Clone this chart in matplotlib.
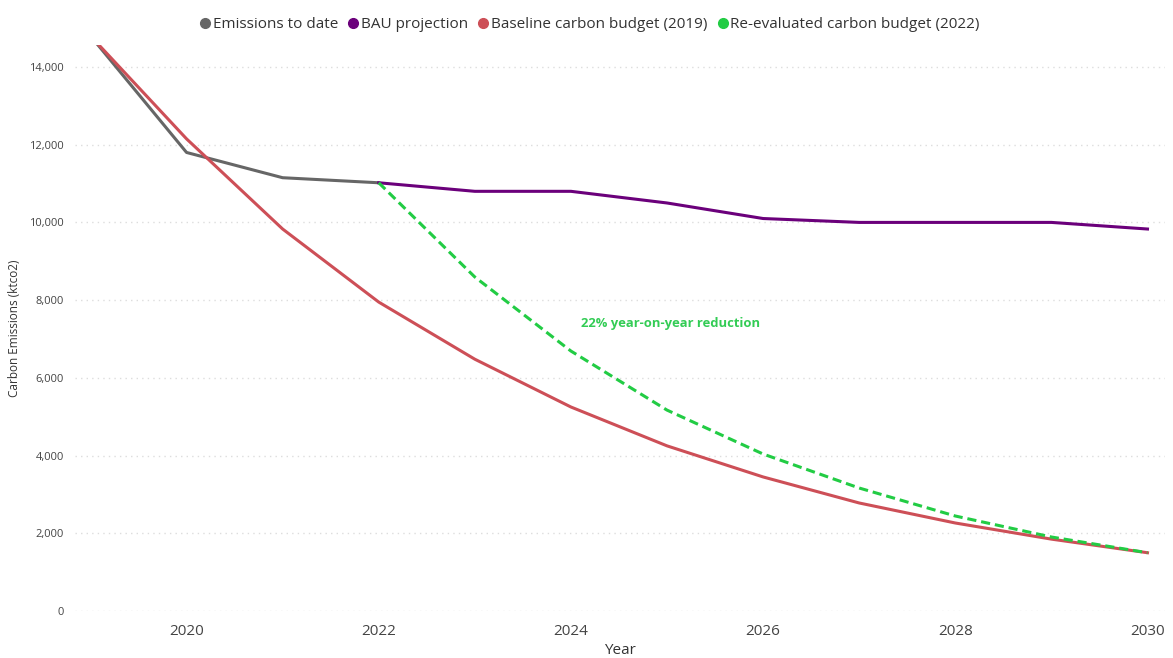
import matplotlib.pyplot as plt
from matplotlib.ticker import FuncFormatter
from matplotlib.lines import Line2D

plt.rcParams['font.family'] = ['Open Sans', 'DejaVu Sans']

# datos
years_todate = [2019, 2020, 2021, 2022]
emissions_todate = [14800, 11800, 11150, 11020]

years_bau = [2022, 2023, 2024, 2025, 2026, 2027, 2028, 2029, 2030]
bau = [11020, 10800, 10800, 10500, 10100, 10000, 10000, 10000, 9830]

years_base = [2019, 2020, 2021, 2022, 2023, 2024, 2025, 2026, 2027, 2028, 2029, 2030]
baseline = [14800, 12150, 9830, 7950, 6480, 5250, 4250, 3450, 2780, 2265, 1850, 1500]

years_reeval = [2022, 2023, 2024, 2025, 2026, 2027, 2028, 2029, 2030]
reeval = [11020, 8595, 6690, 5170, 4040, 3165, 2445, 1905, 1500]

labels = ["Emissions to date", "BAU projection", "Baseline carbon budget (2019)",
          "Re-evaluated carbon budget (2022)"]
colors = ["#666666", "#6B007B", "#CD4F57", "#22CC44"]

fig = plt.figure(figsize=(11.73, 6.58), dpi=100)
ax = fig.add_axes([0.064, 0.0714, 0.929, 0.8602])

ax.plot(years_todate, emissions_todate, color=colors[0], lw=2.2)
ax.plot(years_bau, bau, color=colors[1], lw=2.2)
ax.plot(years_base, baseline, color=colors[2], lw=2.2)
ax.plot(years_reeval, reeval, color=colors[3], lw=2.2, ls=(0, (3, 1.6)))

ax.text(2024.1, 7410, "22% year-on-year reduction", color="#33CC55",
        fontsize=9.4, fontweight="bold", va="center")

ax.set_xlim(2018.84, 2030.18)
ax.set_ylim(0, 14565)
ax.set_xticks([2020, 2022, 2024, 2026, 2028, 2030])
ax.set_yticks(range(0, 14001, 2000))
ax.yaxis.set_major_formatter(FuncFormatter(lambda v, p: f"{int(v):,}"))
ax.tick_params(axis="x", length=0, labelsize=11, labelcolor="#444444", pad=9)
ax.tick_params(axis="y", length=0, labelsize=8, labelcolor="#444444", pad=8)
ax.grid(axis="y", color="#DDDDDD", ls=(0, (1, 3)), lw=1)
ax.set_axisbelow(True)
for s in ax.spines.values():
    s.set_visible(False)

ax.set_xlabel("Year", fontsize=11, color="#333333", labelpad=3)
ax.set_ylabel("Carbon Emissions (ktco2)", fontsize=8.5, color="#333333", labelpad=6)

handles = [Line2D([], [], marker="o", ls="", color=c, markersize=7) for c in colors]
fig.legend(handles, labels, loc="upper center", bbox_to_anchor=(0.5, 0.995), ncol=4,
           frameon=False, fontsize=11, handletextpad=-0.25, columnspacing=0.25,
           handlelength=1.5, labelcolor="#333333")

fig.savefig("out.png", dpi=100)
